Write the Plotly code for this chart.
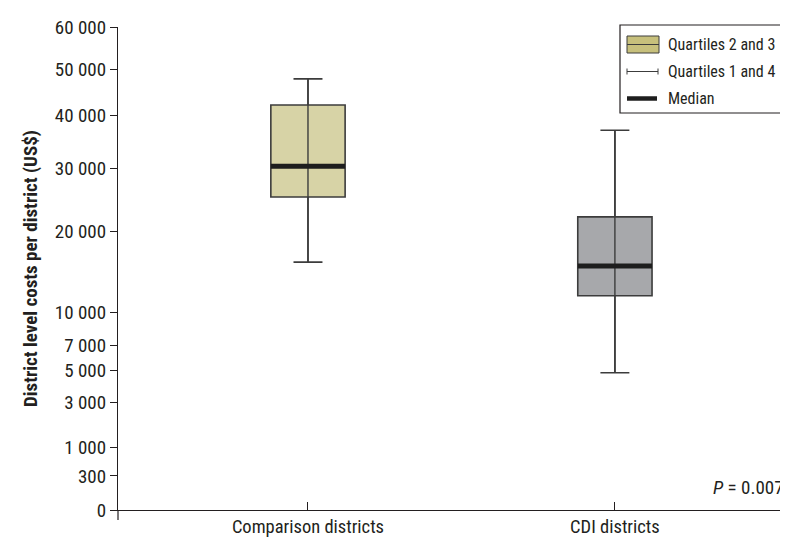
import numpy as np
import plotly.graph_objects as go

categories = ["Comparison districts", "CDI districts"]
lower_whisker = [15800, 4850]
q1_vals = [25200, 11800]
median_vals = [30400, 15300]
q3_vals = [42200, 22100]
upper_whisker = [47800, 37100]
fill_colors = ["#d7d3a6", "#a7a8ab"]

y_ticks = [0, 300, 1000, 3000, 5000, 7000, 10000, 20000, 30000, 40000, 50000, 60000]
y_ticklabels = ["0", "300", "1 000", "3 000", "5 000", "7 000", "10 000", "20 000",
                "30 000", "40 000", "50 000", "60 000"]

FONT = "Liberation Sans Narrow, Arial Narrow, Roboto Condensed, Liberation Sans, sans-serif"
DARK = "#231f20"
sq = np.sqrt

OX, OY = 8, 8
L, T, PW, PH = 118 - OX, 27 - OY, 670, 483
FIG_W, FIG_H = 780, 535


def px(x):
    return (x - 118) / PW


def py(y):
    return (510 - y) / PH


box_w = 0.242
fig = go.Figure()
for i, cat in enumerate(categories):
    fig.add_trace(go.Box(
        x=[i], q1=[sq(q1_vals[i])], median=[sq(median_vals[i])], q3=[sq(q3_vals[i])],
        lowerfence=[sq(lower_whisker[i])], upperfence=[sq(upper_whisker[i])],
        width=box_w, whiskerwidth=0.39, fillcolor=fill_colors[i],
        line=dict(color="#3c3c3c", width=1.6), showlegend=False, hoverinfo="skip",
        boxpoints=False,
    ))
    fig.add_trace(go.Scatter(
        x=[i, i], y=[sq(lower_whisker[i]), sq(upper_whisker[i])], mode="lines",
        line=dict(color="#3c3c3c", width=1.4), showlegend=False, hoverinfo="skip"))
    fig.add_trace(go.Scatter(
        x=[i - box_w / 2, i + box_w / 2], y=[sq(median_vals[i])] * 2, mode="lines",
        line=dict(color="#1e1e1e", width=5), showlegend=False, hoverinfo="skip"))

shapes = [
    dict(type="line", xref="paper", yref="paper", x0=0, x1=0, y0=0, y1=py(520),
         line=dict(color=DARK, width=1.2)),
    dict(type="rect", xref="paper", yref="paper",
         x0=px(620), x1=px(787.5), y0=py(113), y1=py(25),
         line=dict(color=DARK, width=1.2), fillcolor="white"),
    dict(type="rect", xref="paper", yref="paper",
         x0=px(627), x1=px(659), y0=py(53), y1=py(36),
         line=dict(color="#3c3c3c", width=1), fillcolor="#c7c07c"),
    dict(type="line", xref="paper", yref="paper",
         x0=px(627), x1=px(659), y0=py(44.5), y1=py(44.5),
         line=dict(color="#3c3c3c", width=1)),
    dict(type="line", xref="paper", yref="paper",
         x0=px(627), x1=px(658), y0=py(71.5), y1=py(71.5),
         line=dict(color="#3c3c3c", width=1)),
    dict(type="line", xref="paper", yref="paper",
         x0=px(627), x1=px(627), y0=py(68.5), y1=py(74.5),
         line=dict(color="#3c3c3c", width=1)),
    dict(type="line", xref="paper", yref="paper",
         x0=px(658), x1=px(658), y0=py(68.5), y1=py(74.5),
         line=dict(color="#3c3c3c", width=1)),
    dict(type="line", xref="paper", yref="paper",
         x0=px(627), x1=px(657), y0=py(98.5), y1=py(98.5),
         line=dict(color="#1e1e1e", width=4.5)),
]

legend_texts = ["Quartiles 2 and 3", "Quartiles 1 and 4", "Median"]
legend_ys = [44.5, 71.5, 98]
annotations = []
for t, yy in zip(legend_texts, legend_ys):
    annotations.append(dict(
        text=t, xref="paper", yref="paper", x=px(666), y=py(yy),
        xanchor="left", yanchor="middle", showarrow=False,
        font=dict(family=FONT, size=16, color=DARK)))
annotations.append(dict(
    text="<i>P</i> = 0.007", xref="paper", yref="paper", x=px(711),
    y=py(487), xanchor="left", yanchor="middle", showarrow=False,
    font=dict(family=FONT, size=19, color=DARK)))

fig.update_layout(
    width=FIG_W, height=FIG_H,
    margin=dict(l=L, r=FIG_W - L - PW, t=T, b=FIG_H - T - PH),
    paper_bgcolor="white", plot_bgcolor="white",
    showlegend=False,
    shapes=shapes, annotations=annotations,
    xaxis=dict(
        range=[-0.619, 1.564], tickvals=[0, 1], ticktext=categories,
        ticks="inside", ticklen=8, tickcolor=DARK, tickwidth=1.2,
        showline=True, linecolor=DARK, linewidth=1.2, showgrid=False, zeroline=False,
        tickfont=dict(family=FONT, size=18.5, color=DARK),
    ),
    yaxis=dict(
        range=[0, sq(60000)], tickvals=[sq(v) for v in y_ticks], ticktext=y_ticklabels,
        ticks="outside", ticklen=7, tickcolor=DARK, tickwidth=1.2,
        showline=True, linecolor=DARK, linewidth=1.2, showgrid=False, zeroline=False,
        tickfont=dict(family=FONT, size=19, color=DARK),
        title=dict(text="<b>District level costs per district (US$)</b>",
                   font=dict(family=FONT, size=19, color=DARK), standoff=12),
    ),
)

fig.write_html("out.html")
